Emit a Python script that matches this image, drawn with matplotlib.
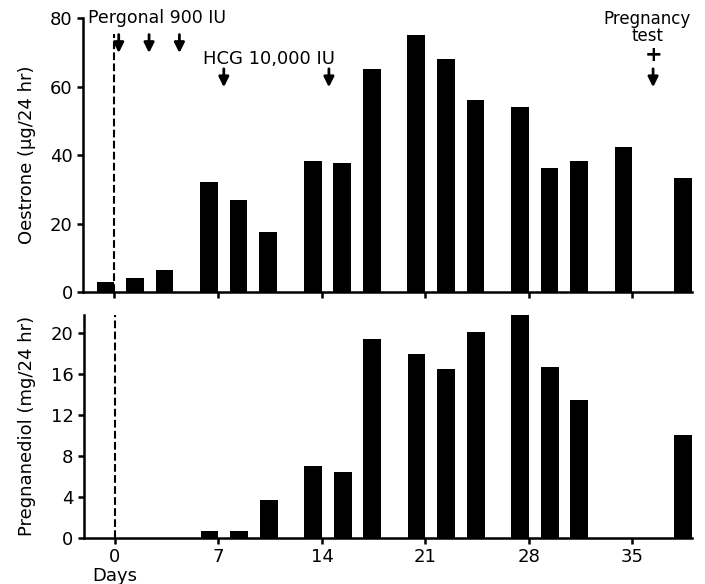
import matplotlib
matplotlib.use('Agg')
from matplotlib import pyplot as plt

# collection days (bar right edge sits on the day)
days = [0, 2, 4, 7, 9, 11, 14, 16, 18, 21, 23, 25, 28, 30, 32, 35, 39]
oestrone = [3, 4, 6.5, 32, 27, 17.5, 38.3, 37.6, 65, 75, 68.2, 56, 54, 36.2, 38.2, 42.3, 33.3]
pregnanediol = [0, 0, 0, 0.7, 0.7, 3.7, 7.05, 6.45, 19.4, 18.0, 16.5, 20.1, 21.8, 16.7, 13.5, 0, 10.1]

pergonal_days = [0.3, 2.35, 4.4]
hcg_days = [7.4, 14.5]
preg_test_day = 36.4

x_ticks = [0, 7, 14, 21, 28, 35]
oe_ticks = [0, 20, 40, 60, 80]
pd_ticks = [0, 4, 8, 12, 16, 20]

plt.rcParams['font.family'] = 'DejaVu Sans'
plt.rcParams['font.size'] = 12


def style(ax):
	for side in ['top', 'right']:
		ax.spines[side].set_visible(False)
	for side in ['left', 'bottom']:
		ax.spines[side].set_linewidth(1.8)
	ax.tick_params(direction='out', length=4, width=1.8, labelsize=13)
	ax.set_xlim(-2.1, 39.05)
	ax.set_xticks(x_ticks)


def main():
	fig = plt.figure(figsize=(7.05, 5.84), dpi=100)
	ax1 = fig.add_axes([0.118, 0.5, 0.864, 0.469])
	ax2 = fig.add_axes([0.119, 0.079, 0.863, 0.382])

	ax1.bar(days, oestrone, width=-1.2, align='edge', color='black')
	ax2.bar(days, pregnanediol, width=-1.2, align='edge', color='black')

	style(ax1)
	style(ax2)
	ax1.set_ylim(0, 80)
	ax1.set_yticks(oe_ticks)
	ax1.set_xticklabels([])
	ax2.set_ylim(0, 21.8)
	ax2.set_yticks(pd_ticks)

	ax1.set_ylabel('Oestrone (\u03bcg/24 hr)', fontsize=13)
	ax2.set_ylabel('Pregnanediol (mg/24 hr)', fontsize=13)
	ax1.yaxis.set_label_coords(-0.078, 0.5)
	ax2.yaxis.set_label_coords(-0.078, 0.5)

	# day 0 marker
	ax1.plot([0, 0], [0, 75.5], ls='--', color='black', lw=1.5)
	ax2.plot([0, 0], [0, 21.8], ls='--', color='black', lw=1.5)

	arrow = dict(arrowstyle='-|>', color='black', lw=2, mutation_scale=15)
	ax1.text(-1.8, 80, 'Pergonal 900 IU', fontsize=12.5, va='center', ha='left')
	for d in pergonal_days:
		ax1.annotate('', xy=(d, 69), xytext=(d, 76), arrowprops=arrow)
	ax1.text(6.0, 68, 'HCG 10,000 IU', fontsize=13, va='center', ha='left')
	for d in hcg_days:
		ax1.annotate('', xy=(d, 59), xytext=(d, 66), arrowprops=arrow)
	ax1.text(36.0, 77.3, 'Pregnancy\ntest', fontsize=12, va='center', ha='center', linespacing=0.95)
	ax1.text(preg_test_day, 69.3, '+', fontsize=15, fontweight='bold', va='center', ha='center')
	ax1.annotate('', xy=(preg_test_day, 59), xytext=(preg_test_day, 66), arrowprops=arrow)

	ax2.text(0, -0.17, 'Days', transform=ax2.get_xaxis_transform(), fontsize=13, ha='center', va='center')

	fig.savefig('out.png', dpi=100)


if __name__ == "__main__":
	main()
